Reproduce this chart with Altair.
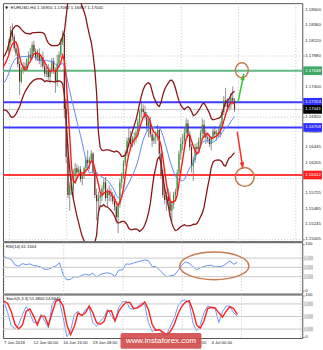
import altair as alt
import pandas as pd

# ---------------- data (prices in pips: price = 1 + v / 10000) ----------------
PRE_CLOSE = [1745, 1750, 1742, 1738, 1730, 1722, 1715, 1712, 1720, 1730,
             1742, 1748, 1752, 1760, 1765, 1772, 1778, 1785, 1782, 1795]
FIRST_OPEN = 1795
HIGH = [1815, 1835, 1839, 1822, 1806, 1797, 1780, 1770, 1778, 1778,
        1785, 1795, 1800, 1810, 1812, 1800, 1798, 1800, 1790, 1795,
        1780, 1770, 1775, 1770, 1785, 1785, 1770, 1790, 1795, 1815,
        1828, 1830, 1720, 1650, 1590, 1600, 1610, 1620, 1618, 1615,
        1615, 1605, 1615, 1630, 1640, 1630, 1640, 1637, 1610, 1580,
        1575, 1575, 1585, 1595, 1598, 1580, 1585, 1580, 1575, 1570,
        1560, 1560, 1595, 1605, 1625, 1640, 1660, 1676, 1670, 1662,
        1668, 1672, 1690, 1705, 1718, 1712, 1710, 1700, 1690, 1692,
        1675, 1665, 1670, 1680, 1678, 1640, 1610, 1580, 1575, 1580,
        1575, 1560, 1575, 1580, 1610, 1640, 1660, 1665, 1675, 1690,
        1688, 1670, 1650, 1630, 1650, 1652, 1660, 1672, 1690, 1688,
        1672, 1668, 1665, 1662, 1675, 1678, 1672, 1675, 1685, 1705,
        1725, 1738, 1722, 1720, 1730, 1740, 1722]
LOW = [1790, 1805, 1812, 1795, 1788, 1770, 1727, 1745, 1760, 1765,
       1765, 1775, 1780, 1782, 1790, 1780, 1780, 1775, 1770, 1768,
       1755, 1755, 1750, 1745, 1760, 1760, 1730, 1740, 1770, 1785,
       1805, 1690, 1620, 1565, 1545, 1570, 1565, 1590, 1595, 1600,
       1590, 1585, 1595, 1605, 1615, 1610, 1620, 1600, 1565, 1530,
       1545, 1555, 1560, 1570, 1560, 1550, 1560, 1560, 1555, 1545,
       1525, 1510, 1550, 1580, 1595, 1615, 1630, 1645, 1645, 1645,
       1648, 1652, 1660, 1675, 1690, 1695, 1688, 1670, 1660, 1660,
       1645, 1650, 1650, 1655, 1630, 1595, 1565, 1555, 1545, 1555,
       1535, 1528, 1548, 1560, 1570, 1600, 1625, 1640, 1645, 1660,
       1660, 1640, 1605, 1592, 1620, 1635, 1638, 1650, 1660, 1660,
       1650, 1652, 1645, 1640, 1655, 1660, 1655, 1660, 1660, 1675,
       1695, 1708, 1700, 1702, 1705, 1712, 1700]
CLOSE = [1810, 1828, 1818, 1800, 1792, 1775, 1748, 1765, 1772, 1768,
         1782, 1790, 1785, 1805, 1795, 1785, 1792, 1780, 1786, 1772,
         1760, 1765, 1755, 1765, 1780, 1765, 1748, 1776, 1790, 1810,
         1822, 1705, 1630, 1570, 1585, 1578, 1600, 1612, 1605, 1610,
         1595, 1600, 1612, 1625, 1620, 1625, 1635, 1605, 1570, 1560,
         1565, 1570, 1580, 1590, 1565, 1575, 1570, 1568, 1560, 1552,
         1535, 1555, 1590, 1600, 1620, 1635, 1655, 1660, 1650, 1658,
         1660, 1668, 1685, 1700, 1705, 1700, 1692, 1678, 1685, 1665,
         1655, 1660, 1665, 1672, 1635, 1600, 1570, 1562, 1568, 1560,
         1545, 1555, 1570, 1575, 1605, 1635, 1650, 1655, 1668, 1682,
         1665, 1645, 1615, 1625, 1645, 1642, 1655, 1668, 1680, 1665,
         1660, 1658, 1650, 1660, 1670, 1665, 1668, 1665, 1680, 1700,
         1718, 1715, 1708, 1712, 1722, 1718, 1704]

# indicator panels, sampled every 2 bars (bar index 0, 2, ... 126)
OSC_BARS = list(range(0, 127, 2))
RSI = [73, 70, 67, 55, 52.5, 58, 56, 57.5, 54, 53, 50.5, 46, 46, 49.6, 53, 60,
       34, 23, 24.5, 29.8, 29, 32.6, 35.5, 33, 37.6, 29, 34.8, 37, 38.3, 36, 30.5, 44,
       44.7, 57.5, 56.7, 59.6, 61.7, 63.8, 66, 64.5, 51.8, 51.8, 44.7, 36, 29.8, 32, 33.3, 43.3,
       54.6, 61.7, 58.9, 51.8, 44.7, 49, 51.8, 54, 54.6, 51, 51.8, 52.5, 58, 63.8, 56.7, 61.1]
STO_MAIN = [86, 58.8, 27.6, 20.6, 31.5, 54.9, 73.5, 58.8, 35.4, 35.4, 54.9, 39.3, 23.7, 78.3, 92.3, 86,
            47.1, 1.9, 16, 54.9, 62.6, 51, 66.6, 70.5, 35.4, 26.8, 39.3, 47.9, 67.4, 51, 39.3, 72,
            84.5, 86, 68.9, 67.4, 72, 82.2, 78.3, 35.4, 14.3, 18.3, 19.9, 4.3, 9.8, 27.6, 47.1, 75.1,
            87.6, 89.9, 82.2, 35.4, 16, 29.9, 58.8, 75.1, 71.2, 68.9, 35.4, 61.1, 75.1, 74.3, 58.8, 51.5]
STO_SIGNAL = [86.9, 81.3, 61.2, 30.8, 20.6, 29.9, 62.6, 68.1, 51, 29.9, 51, 51, 28.4, 58.8, 86, 89.9,
              74.3, 29.9, 6.6, 26.8, 58, 52.6, 58.8, 75.1, 58.8, 35.4, 31.5, 37.7, 62.6, 63.5, 39.3, 62.6,
              75.1, 83.7, 83.7, 68.9, 70.5, 75.9, 84.5, 66.6, 31.5, 16.7, 18.3, 12.1, 6.6, 15.2, 31.5, 56.5,
              74.3, 84.5, 87.6, 64.3, 29.9, 22.1, 39.3, 68.9, 72, 70.5, 58.8, 48.7, 62.6, 73.5, 68.9, 54.9]

PRICE_TICKS = [1.18600, 1.18360, 1.18120, 1.17880, 1.17640, 1.17400, 1.17160, 1.16920,
               1.16685, 1.16445, 1.16205, 1.15965, 1.15725, 1.15485, 1.15245, 1.15005]
# time labels every 16 bars; the 22 Jun / 26 Jun ones sit fully under the watermark
TIME_BARS = [0, 16, 32, 48, 96, 112]
TIME_LABELS = ["7 Jun 2018", "12 Jun 00:00", "14 Jun 16:00", "19 Jun 08:00",
               "29 Jun 08:00", "4 Jul 00:00"]
LEVEL_PRICE = [1.17648, 1.17153, 1.16758, 1.16012]
LEVEL_COLOR = ["#62b884", "#3b3bff", "#3b3bff", "#ff3a3a"]
LEVEL_BOX = ["#3fa866", "#2f2fff", "#2f2fff", "#ff2020"]
BID = 1.17041
TITLE = "EURUSD,H4  1.16955 1.17062 1.16857 1.17041"
RSI_TEXT = "RSI(14) 61.1344"
STO_TEXT = "Stoch(5,3,3) 51.4800 54.8640"
RSI_LEVELS = [70, 50, 30]
STO_LEVELS = [80, 50, 20]
OSC_RANGE = [100, 0]
# analyst drawings (bar index, value)
GREEN_ARROW = [(128.0, 1.17160), (131.2, 1.17600)]
RED_ARROW = [(127.5, 1.16694), (130.7, 1.16110)]
GREEN_RING = (130.1, 1.17655)
RED_RING = (131.7, 1.15981)
RSI_RING = (113.6, 53.2)

# ---------------- frames ----------------
def px(v):
    return 1 + v / 10000.0

n = len(CLOSE)
OPEN = [FIRST_OPEN] + CLOSE[:-1]
candles = pd.DataFrame({"i": list(range(n)), "o": [px(v) for v in OPEN],
                        "h": [px(v) for v in HIGH], "l": [px(v) for v in LOW],
                        "c": [px(v) for v in CLOSE]})
closes = pd.DataFrame({"i": list(range(-len(PRE_CLOSE), n)),
                       "c": [px(v) for v in PRE_CLOSE + CLOSE]})
osc = pd.DataFrame({"i": OSC_BARS, "rsi": RSI, "k": STO_MAIN, "d": STO_SIGNAL})
levels = pd.DataFrame({"p": LEVEL_PRICE, "col": LEVEL_COLOR})
box_p = LEVEL_PRICE[:3] + [BID] + LEVEL_PRICE[3:]
boxes = pd.DataFrame({"p": box_p,
                      "col": LEVEL_BOX[:3] + ["#000000"] + LEVEL_BOX[3:],
                      "t": ["%.5f" % v for v in box_p]})
ticks_df = pd.DataFrame({"p": PRICE_TICKS, "t": ["%.5f" % v for v in PRICE_TICKS]})
garrow = pd.DataFrame({"i": [a for a, b in GREEN_ARROW], "p": [b for a, b in GREEN_ARROW]})
rarrow = pd.DataFrame({"i": [a for a, b in RED_ARROW], "p": [b for a, b in RED_ARROW]})

FONT = "Liberation Sans"
FS = 4.4
GRIDC = "#c4c4c4"
W = 303
H_MAIN, H_RSI, H_STO = 241, 52, 44
XDOM = [-0.533, 161.07]
xs = alt.Scale(domain=XDOM, nice=False, zero=False)
GRID_BARS = list(range(0, 161, 8))
ARROW = "M0,0L0.75,2.2L-0.75,2.2Z"
ELL_H = "M-1,0A1,0.4,0,1,1,1,0A1,0.4,0,1,1,-1,0Z"
ELL_V = "M0,-1A0.87,1,0,1,1,0,1A0.87,1,0,1,1,0,-1Z"

xgrid = alt.Axis(values=GRID_BARS, grid=True, gridDash=[1, 2], gridColor=GRIDC,
                 labels=False, ticks=False, domain=False, title=None, zindex=0)
X = alt.X("i:Q", scale=xs, axis=xgrid)


def ytick_axis(vals, grid):
    return alt.Axis(orient="right", values=vals, grid=grid, gridDash=[1, 2], gridColor=GRIDC,
                    labels=False, ticks=True, tickSize=2, tickColor="#888", domain=False,
                    title=None, zindex=0)


def right_labels(df, field):
    return alt.Chart(df).mark_text(align="left", baseline="middle", fontSize=FS, font=FONT,
                                   color="#222", clip=False).encode(
        x=alt.value(306), y=f"{field}:Q", text="t:N")


# ---------------- main panel ----------------
ym = alt.Scale(domain=[1.14974, 1.18708], nice=False, zero=False)

wick = alt.Chart(candles).mark_rule(color="#8f8f8f", strokeWidth=1, clip=True).encode(
    x=X, y=alt.Y("l:Q", scale=ym, axis=ytick_axis(PRICE_TICKS, True)), y2="h:Q")
bull = alt.Chart(candles).transform_filter("datum.c >= datum.o").mark_bar(
    width=1.2, color="#2f9a2f", clip=True).encode(x="i:Q", y="o:Q", y2="c:Q")
bear = alt.Chart(candles).transform_filter("datum.c < datum.o").mark_bar(
    width=1.2, color="#6a2424", clip=True).encode(x="i:Q", y="o:Q", y2="c:Q")

lvl = alt.Chart(levels).mark_rule(strokeWidth=2).encode(
    y="p:Q", color=alt.Color("col:N", scale=None))
bidline = alt.Chart(pd.DataFrame({"p": [BID]})).mark_rule(color="#c8c8c8", strokeWidth=1).encode(
    y="p:Q")

srt = [alt.SortField("i", order="ascending")]
ind = (alt.Chart(closes)
       .transform_window(fast="mean(c)", frame=[-4, 0], sort=srt)
       .transform_window(slow="mean(c)", frame=[-13, 0], sort=srt)
       .transform_window(mid="mean(c)", sd="stdevp(c)", frame=[-19, 0], sort=srt)
       .transform_calculate(up="datum.mid + 2 * datum.sd", dn="datum.mid - 2 * datum.sd"))
band_up = ind.mark_line(color="#8b1515", strokeWidth=1.3, clip=True).encode(x="i:Q", y="up:Q")
band_dn = ind.mark_line(color="#8b1515", strokeWidth=1.3, clip=True).encode(x="i:Q", y="dn:Q")
slow = ind.mark_line(color="#5f87f5", strokeWidth=1, clip=True).encode(x="i:Q", y="slow:Q")
fast = ind.mark_line(color="#ff1a1a", strokeWidth=1.4, clip=True).encode(x="i:Q", y="fast:Q")

g_line = alt.Chart(garrow).mark_line(color="#2ecc2e", strokeWidth=1.5).encode(x="i:Q", y="p:Q")
g_head = alt.Chart(garrow.tail(1)).mark_point(shape=ARROW, size=36, filled=True, color="#2ecc2e",
                                             opacity=1, angle=12).encode(x="i:Q", y="p:Q")
r_line = alt.Chart(rarrow).mark_line(color="#ff2a2a", strokeWidth=1.5).encode(x="i:Q", y="p:Q")
r_head = alt.Chart(rarrow.tail(1)).mark_point(shape=ARROW, size=36, filled=True, color="#ff2a2a",
                                             opacity=1, angle=171).encode(x="i:Q", y="p:Q")
g_ring = alt.Chart(pd.DataFrame({"i": [GREEN_RING[0]], "p": [GREEN_RING[1]]})).mark_point(
    shape=ELL_V, size=225, filled=False, stroke="#c67a4e", strokeWidth=1.5, opacity=1).encode(
    x="i:Q", y="p:Q")
r_ring = alt.Chart(pd.DataFrame({"i": [RED_RING[0]], "p": [RED_RING[1]]})).mark_point(
    shape="circle", size=361, filled=False, stroke="#c67a4e", strokeWidth=1.5, opacity=1).encode(
    x="i:Q", y="p:Q")

price_labels = right_labels(ticks_df, "p")
box_rect = alt.Chart(boxes).transform_calculate(
    y1="datum.p - 0.00068", y2="datum.p + 0.00068").mark_rect(clip=False).encode(
    x=alt.value(304), x2=alt.value(323), y="y1:Q", y2="y2:Q",
    color=alt.Color("col:N", scale=None))
box_text = alt.Chart(boxes).mark_text(align="left", baseline="middle", fontSize=FS, font=FONT,
                                      color="white").encode(x=alt.value(306), y="p:Q", text="t:N")

title_t = alt.Chart(pd.DataFrame({"t": [TITLE]})).mark_text(
    align="left", baseline="middle", fontSize=FS, font=FONT, color="#111").encode(
    x=alt.value(8), y=alt.value(5), text="t:N")
title_tri = alt.Chart(pd.DataFrame({"t": ["\u25bc"]})).mark_text(
    align="left", baseline="middle", fontSize=4, font="DejaVu Sans", color="#111").encode(
    x=alt.value(2), y=alt.value(5), text="t:N")

main = alt.layer(wick, lvl, bidline, bull, bear, band_up, band_dn, slow, fast,
                 g_line, g_head, r_line, r_head, g_ring, r_ring, price_labels, box_rect, box_text,
                 title_t, title_tri).properties(width=W, height=H_MAIN)

# ---------------- RSI panel ----------------
yr = alt.Scale(domain=[-6.4, 104.3], nice=False, zero=False)
rng_df = pd.DataFrame({"v": OSC_RANGE, "t": [str(v) for v in OSC_RANGE]})
rsi_ln = alt.Chart(osc).mark_line(color="#5f8ff0", strokeWidth=1).encode(
    x=X, y=alt.Y("rsi:Q", scale=yr, axis=ytick_axis(OSC_RANGE, False)))
rsi_lv = alt.Chart(pd.DataFrame({"v": RSI_LEVELS})).mark_rule(color="#c8c8c8", strokeWidth=1).encode(
    y="v:Q")
rsi_box = alt.Chart(pd.DataFrame({"v": RSI_LEVELS})).transform_calculate(
    a="datum.v - 5", b="datum.v + 5").mark_rect(color="#cdcdcd").encode(
    x=alt.value(304), x2=alt.value(314), y="a:Q", y2="b:Q")
rsi_boxt = alt.Chart(pd.DataFrame({"v": RSI_LEVELS})).mark_text(
    align="left", baseline="middle", fontSize=3.6, font=FONT, color="#f2f2f2").encode(
    x=alt.value(305), y="v:Q", text="v:Q")
rsi_rng = right_labels(rng_df, "v")
rsi_t = alt.Chart(pd.DataFrame({"t": [RSI_TEXT]})).mark_text(
    align="left", baseline="middle", fontSize=4.2, font=FONT, color="#111").encode(
    x=alt.value(3), y=alt.value(5), text="t:N")
rsi_ring = alt.Chart(pd.DataFrame({"i": [RSI_RING[0]], "v": [RSI_RING[1]]})).mark_point(
    shape=ELL_H, size=4900, filled=False, stroke="#c67a4e", strokeWidth=1.5, opacity=1).encode(
    x="i:Q", y="v:Q")
rsi_panel = alt.layer(rsi_ln, rsi_lv, rsi_box, rsi_boxt, rsi_rng, rsi_t, rsi_ring).properties(
    width=W, height=H_RSI)

# ---------------- Stochastic panel ----------------
ys = alt.Scale(domain=[-1.2, 102.3], nice=False, zero=False)
sto_k = alt.Chart(osc).mark_line(color="#6a98f2", strokeWidth=1).encode(
    x=X, y=alt.Y("k:Q", scale=ys, axis=ytick_axis(OSC_RANGE, False)))
sto_lv = alt.Chart(pd.DataFrame({"v": STO_LEVELS})).mark_rule(color="#c8c8c8", strokeWidth=1).encode(
    y="v:Q")
sto_d = alt.Chart(osc).mark_line(color="#ff1f1f", strokeWidth=1.4).encode(x="i:Q", y="d:Q")
sto_box = alt.Chart(pd.DataFrame({"v": STO_LEVELS})).transform_calculate(
    a="datum.v - 5.5", b="datum.v + 5.5").mark_rect(color="#cdcdcd").encode(
    x=alt.value(304), x2=alt.value(314), y="a:Q", y2="b:Q")
sto_boxt = alt.Chart(pd.DataFrame({"v": STO_LEVELS})).mark_text(
    align="left", baseline="middle", fontSize=3.6, font=FONT, color="#f2f2f2").encode(
    x=alt.value(305), y="v:Q", text="v:Q")
sto_rng = right_labels(rng_df, "v")
sto_t = alt.Chart(pd.DataFrame({"t": [STO_TEXT]})).mark_text(
    align="left", baseline="middle", fontSize=4.2, font=FONT, color="#111").encode(
    x=alt.value(3), y=alt.value(5), text="t:N")
time_t = alt.Chart(pd.DataFrame({"i": TIME_BARS, "t": TIME_LABELS})).mark_text(
    align="left", baseline="middle", fontSize=4.3, font=FONT, color="#222", clip=False).encode(
    x="i:Q", y=alt.value(H_STO + 5), text="t:N")
wm_rect = alt.Chart(pd.DataFrame({"t": ["www.instaforex.com"]})).mark_rect(
    color="#d24a4a", opacity=0.9, cornerRadius=2, clip=False).encode(
    x=alt.value(119), x2=alt.value(201), y=alt.value(39), y2=alt.value(55))
wm_text = alt.Chart(pd.DataFrame({"t": ["www.instaforex.com"]})).mark_text(
    align="center", baseline="middle", fontSize=8, font=FONT, color="white").encode(
    x=alt.value(160), y=alt.value(47), text="t:N")
sto_panel = alt.layer(sto_k, sto_lv, sto_d, sto_box, sto_boxt, sto_rng, sto_t, time_t,
                      wm_rect, wm_text).properties(width=W, height=H_STO)

chart = (alt.vconcat(main, rsi_panel, sto_panel, spacing=1, bounds="flush")
         .properties(padding=0, background="white")
         .configure_view(stroke="#555555", strokeWidth=1))

chart.save("out.html", embed_options={"renderer": "svg", "actions": False})
